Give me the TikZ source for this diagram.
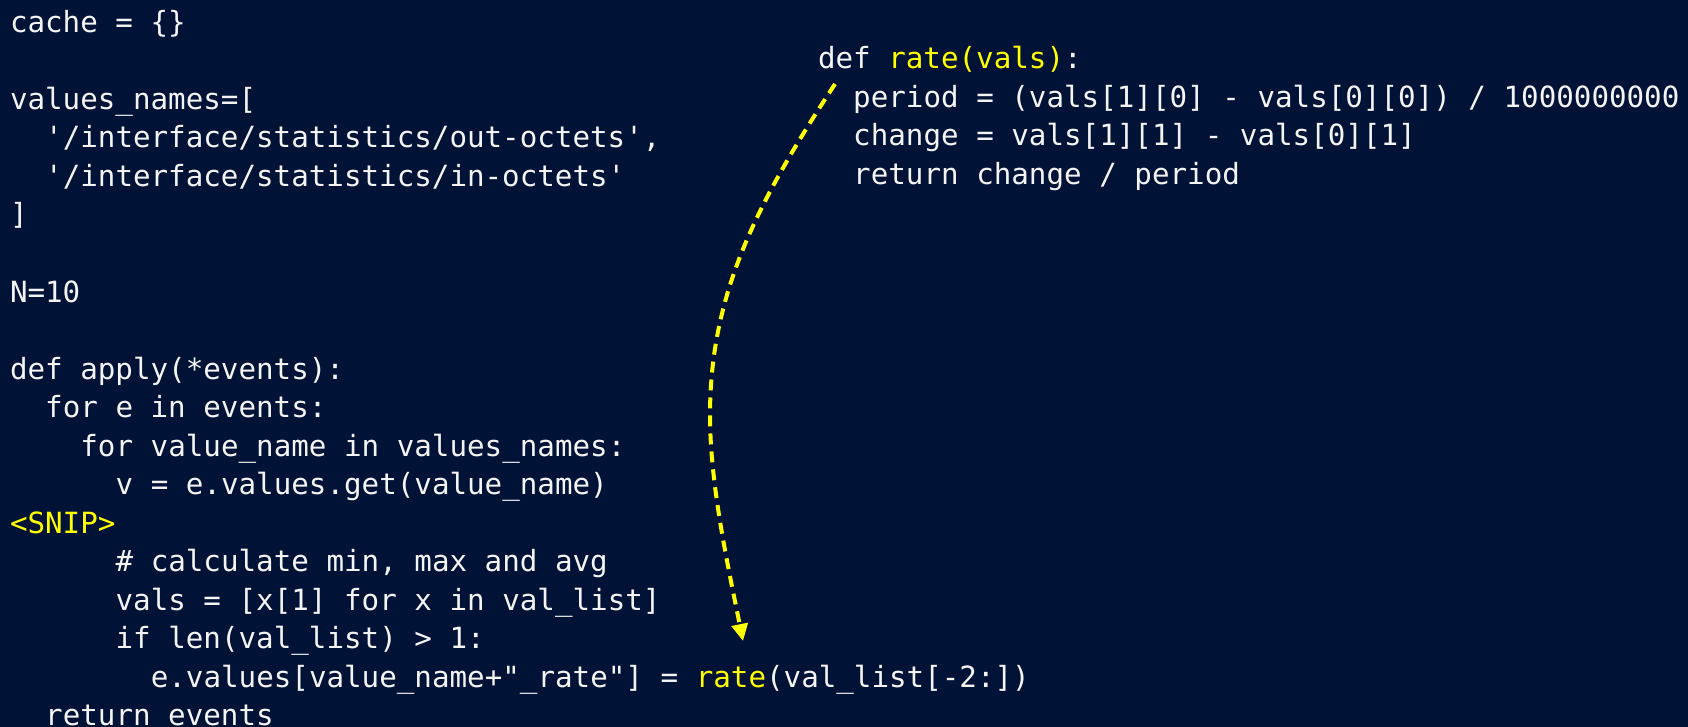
\documentclass[tikz,border=0pt]{standalone}
\usepackage{fontspec}
\setmonofont{DejaVu Sans Mono}
\usetikzlibrary{arrows.meta}
\definecolor{bgnavy}{HTML}{001236}
\definecolor{codeyellow}{HTML}{FFFF00}
\definecolor{codewhite}{HTML}{F4F4F4}
\tikzset{
  codeline/.style={anchor=base west, inner sep=0pt, outer sep=0pt, text=codewhite,
    font=\ttfamily\fontsize{29.2}{38.5}\selectfont},
  hilite/.style={codeline, text=codeyellow},
  callarrow/.style={draw=codeyellow, line width=4pt, dash pattern=on 11pt off 7pt,
    -{Triangle[length=17pt,width=16pt]}}
}
\newcommand{\hl}[1]{\textcolor{codeyellow}{#1}}
\begin{document}
\begin{tikzpicture}[x=1pt,y=-1pt]
\useasboundingbox (0,0) rectangle (1688,727);
\fill[bgnavy] (0,0) rectangle (1688,727);
\begin{scope}
\clip (0,0) rectangle (1688,727);
% left column: x = 10 + indent*17.6 ; baseline = 32.5 + (n-1)*38.5
\node[codeline] (l1)  at (10,32.5)    {cache = \{\}};
\node[codeline] (l3)  at (10,109.5)   {values\_names=[};
\node[codeline] (l4)  at (45.2,148)   {'/interface/statistics/out-octets',};
\node[codeline] (l5)  at (45.2,186.5) {'/interface/statistics/in-octets'};
\node[codeline] (l6)  at (10,225)     {]};
\node[codeline] (l8)  at (10,302)     {N=10};
\node[codeline] (l10) at (10,379)     {def apply(*events):};
\node[codeline] (l11) at (45.2,417.5) {for e in events:};
\node[codeline] (l12) at (80.4,456)   {for value\_name in values\_names:};
\node[codeline] (l13) at (115.6,494.5){v = e.values.get(value\_name)};
\node[hilite]   (l14) at (10,533)     {<SNIP>};
\node[codeline] (l15) at (115.6,571.5){\# calculate min, max and avg};
\node[codeline] (l16) at (115.6,610)  {vals = [x[1] for x in val\_list]};
\node[codeline] (l17) at (115.6,648.5){if len(val\_list) > 1:};
\node[codeline] (l18) at (150.8,687)  {e.values[value\_name+"\_rate"] = \hl{rate}(val\_list[-2:])};
\node[codeline] (l19) at (45.2,725.5) {return events};
% right column
\node[codeline] (r1) at (818,69)      {def \hl{rate(vals)}:};
\node[codeline] (r2) at (853.2,107.5) {period = (vals[1][0] - vals[0][0]) / 1000000000};
\node[codeline] (r3) at (853.2,146)   {change = vals[1][1] - vals[0][1]};
\node[codeline] (r4) at (853.2,184.5) {return change / period};
\end{scope}
% connector
\coordinate (from) at (835,84);
\coordinate (bend) at (710,415);
\coordinate (to) at (743,641);
\draw[callarrow] (from) .. controls (756,204) and (710,295) .. (bend)
                        .. controls (710,485) and (728,566) .. (to);
\end{tikzpicture}
\end{document}
